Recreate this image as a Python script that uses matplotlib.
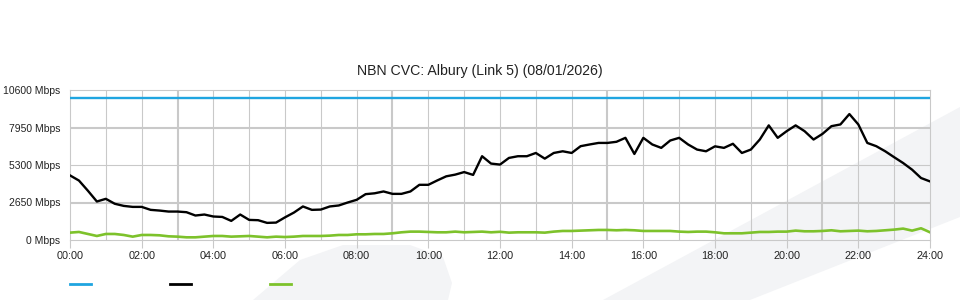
import matplotlib
matplotlib.use("Agg")
import matplotlib.pyplot as plt
from matplotlib.patches import Polygon
from matplotlib.lines import Line2D

plt.rcParams['font.family'] = ['Liberation Sans', 'DejaVu Sans']

# 15 minute samples over the day, in hours
times = [i * 0.25 for i in range(97)]

# link capacity (blue), used throughput (black), green series
capacity_mbps = 10000
used_mbps = [
    4566, 4200, 3480, 2720, 2910, 2560, 2410, 2340,
    2340, 2130, 2080, 2010, 2010, 1965, 1730, 1800,
    1660, 1630, 1350, 1800, 1420, 1400, 1210, 1230,
    1600, 1940, 2370, 2130, 2150, 2370, 2440, 2650,
    2840, 3240, 3300, 3430, 3260, 3260, 3430, 3900,
    3900, 4210, 4500, 4620, 4800, 4600, 5920, 5400,
    5330, 5800, 5920, 5920, 6150, 5750, 6150, 6270,
    6150, 6630, 6750, 6860, 6860, 6940, 7220, 6080,
    7220, 6750, 6510, 7030, 7220, 6750, 6390, 6270,
    6620, 6510, 6800, 6150, 6390, 7100, 8100, 7220,
    7690, 8100, 7690, 7100, 7500, 8045, 8165, 8900,
    8165, 6860, 6630, 6270, 5850, 5440, 4970, 4380,
    4140,
]
green_mbps = [
    520, 568, 426, 284, 426, 426, 355, 237,
    355, 355, 331, 260, 237, 189, 189, 237,
    284, 284, 237, 260, 284, 237, 189, 237,
    210, 237, 284, 284, 284, 308, 355, 355,
    402, 402, 426, 426, 473, 544, 592, 592,
    568, 544, 544, 592, 544, 568, 592, 544,
    580, 520, 544, 544, 544, 520, 592, 639,
    639, 663, 686, 710, 710, 686, 710, 686,
    639, 639, 639, 639, 592, 568, 592, 592,
    544, 473, 473, 473, 520, 568, 568, 592,
    592, 663, 615, 615, 639, 686, 615, 639,
    663, 615, 639, 686, 734, 805, 663, 828,
    544,
]

y_ticks = [0, 2650, 5300, 7950, 10600]
x_ticks = list(range(0, 25, 2))
title = "NBN CVC: Albury (Link 5) (08/01/2026)"

BLUE = "#1fa5e0"
GREEN = "#7dc22b"
GRID = "#c9c9c9"
WATERMARK = "#f3f4f6"

fig = plt.figure(figsize=(9.6, 3.0), dpi=100)

# faint background swooshes, kept behind everything
fig.patches.append(Polygon([[253/960, 0], [300/960, 40/300], [343/960, 55/300],
                            [410/960, 55/300], [443/960, 43/300], [452/960, 17/300],
                            [448/960, 0]], closed=True, transform=fig.transFigure,
                           facecolor=WATERMARK, edgecolor='none', zorder=-10))
fig.patches.append(Polygon([[603/960, 0], [960/960, 193/300], [960/960, 83/300],
                            [750/960, 0]], closed=True, transform=fig.transFigure,
                           facecolor=WATERMARK, edgecolor='none', zorder=-10))

ax = fig.add_axes([70/960, 60/300, 860/960, 150/300])
ax.set_facecolor('none')
ax.set_zorder(5)

# grid, heavier every 3 hours and on the odd horizontal lines
for h in range(1, 24):
    lw = 1.5 if h % 6 == 3 else 0.8
    ax.axvline(h, color=GRID, lw=lw, zorder=1)
for v in y_ticks[1:-1]:
    lw = 1.5 if v in (2650, 7950) else 0.8
    ax.axhline(v, color=GRID, lw=lw, zorder=1)

ax.axhline(capacity_mbps, color=BLUE, lw=1.7, zorder=3)
ax.plot(times, green_mbps, color=GREEN, lw=1.9, zorder=3)
ax.plot(times, used_mbps, color='black', lw=1.7, zorder=4)

ax.set_xlim(0, 24)
ax.set_ylim(0, 10600)
ax.set_xticks(x_ticks)
ax.set_xticklabels([f"{h:02d}:00" for h in x_ticks])
ax.set_yticks(y_ticks)
ax.set_yticklabels([f"{v} Mbps" for v in y_ticks])
ax.tick_params(axis='x', length=6, width=0.8, color=GRID, labelsize=7.8,
               labelcolor='#222222', pad=2)
ax.tick_params(axis='y', length=0, labelsize=7.5, labelcolor='#222222', pad=7)
for s in ax.spines.values():
    s.set_color(GRID)
    s.set_linewidth(0.8)

fig.text(0.5, 229/300, title, ha='center', va='center', fontsize=10.2, color='#222222')

handles = [Line2D([], [], color=BLUE, lw=2),
           Line2D([], [], color='black', lw=2),
           Line2D([], [], color=GREEN, lw=2)]
fig.legend(handles, ['', '', ''], ncol=3, frameon=False, loc='center left',
           bbox_to_anchor=(70/960, 15/300), borderaxespad=0, borderpad=0,
           handlelength=1.9, handletextpad=0, columnspacing=7.1, fontsize=8)

fig.savefig("out.png", dpi=100)
